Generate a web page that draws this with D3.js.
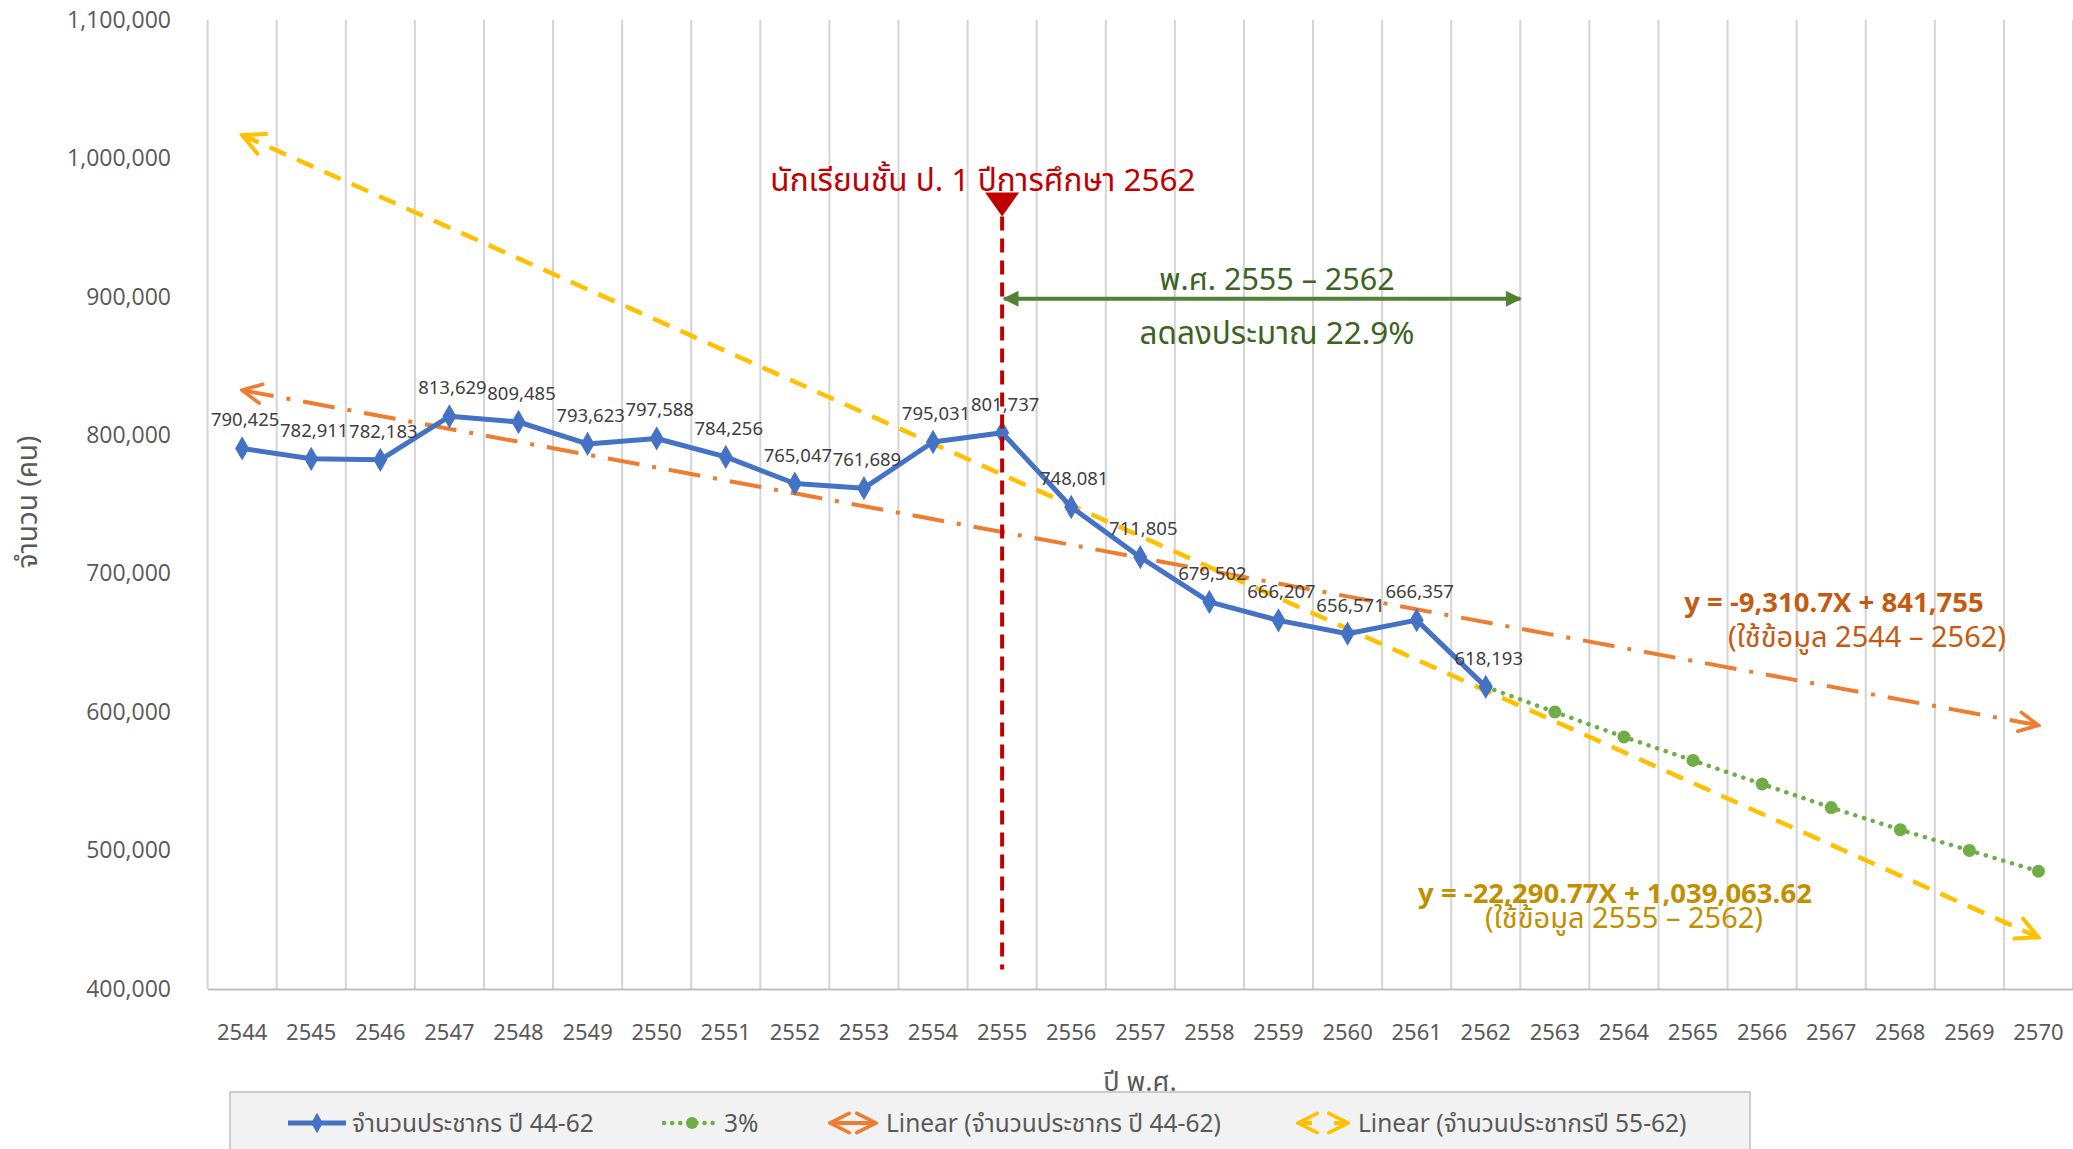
<!DOCTYPE html>
<html>
<head>
<meta charset="utf-8">
<script src="https://cdn.jsdelivr.net/npm/d3@7"></script>
<style>
  body { margin: 0; background: #fff; }
  svg { display: block; }
  text { font-family: "Noto Sans Thai", "Loma", "Garuda", "Tlwg Typo", "Noto Sans", sans-serif; }
</style>
</head>
<body>
<svg id="chart" width="2073" height="1149"></svg>
<script>
// categories (Thai Buddhist years)
const years = [2544,2545,2546,2547,2548,2549,2550,2551,2552,2553,2554,2555,2556,2557,2558,2559,2560,2561,2562,2563,2564,2565,2566,2567,2568,2569,2570]
// population 2544-2562
const popYears = [2544,2545,2546,2547,2548,2549,2550,2551,2552,2553,2554,2555,2556,2557,2558,2559,2560,2561,2562]
const popValues = [790425,782911,782183,813629,809485,793623,797588,784256,765047,761689,795031,801737,748081,711805,679502,666207,656571,666357,618193]
// 3% projection 2562-2570
const projYears = [2562,2563,2564,2565,2566,2567,2568,2569,2570]
const projValues = [618193,600000,582000,565000,548000,531000,515000,500000,485000]
// trend lines (end points)
const trendAllYears = [2544,2570]
const trendAllValues = [832444,590366]
const trendRecentYears = [2544,2570]
const trendRecentValues = [1016773,437213]
// y ticks
const yTicks = [400000,500000,600000,700000,800000,900000,1000000,1100000]

const svg = d3.select("#chart")
svg.append("rect").attr("width", 2073).attr("height", 1149).attr("fill", "#fff")

const x = d3.scaleBand().domain(years).range([207.6, 2073]).padding(0)
const xc = d => x(d) + x.bandwidth() / 2
const y = d3.scaleLinear().domain([400000, 1100000]).range([988.9, 19.8])

// defs: arrowheads
const defs = svg.append("defs")
function chevron(id, color) {
  defs.append("marker")
    .attr("id", id)
    .attr("viewBox", "0 0 10 10")
    .attr("refX", 9).attr("refY", 5)
    .attr("markerWidth", 6).attr("markerHeight", 6)
    .attr("markerUnits", "strokeWidth")
    .attr("orient", "auto-start-reverse")
    .append("path")
    .attr("d", "M1,1 L9,5 L1,9")
    .attr("fill", "none")
    .attr("stroke", color)
    .attr("stroke-width", 1.5)
    .attr("stroke-linecap", "round")
}
chevron("arrOrange", "#ed7d31")
chevron("arrYellow", "#ffc000")
defs.append("marker")
  .attr("id", "arrGreen")
  .attr("viewBox", "0 0 10 10")
  .attr("refX", 9).attr("refY", 5)
  .attr("markerWidth", 4.5).attr("markerHeight", 4)
  .attr("markerUnits", "strokeWidth")
  .attr("orient", "auto-start-reverse")
  .append("path")
  .attr("d", "M0,0 L10,5 L0,10 Z")
  .attr("fill", "#548235")

// vertical gridlines at band edges
const edges = years.map(d => x(d)).concat([x(years[years.length - 1]) + x.bandwidth()])
svg.append("g")
  .selectAll("line")
  .data(edges)
  .enter()
  .append("line")
  .attr("x1", d => d).attr("x2", d => d)
  .attr("y1", y(1100000)).attr("y2", y(400000))
  .attr("stroke", "#d4d4d4")
  .attr("stroke-width", 2)

// x axis
const xAxis = svg.append("g")
  .attr("transform", `translate(0, ${y(400000)})`)
  .call(d3.axisBottom(x).tickSize(0).tickPadding(35))
xAxis.select(".domain").attr("stroke", "#bfbfbf").attr("stroke-width", 2)
xAxis.selectAll("text")
  .attr("font-size", 22)
  .attr("fill", "#595959")
  .style("font-family", "'Liberation Sans Narrow', 'Noto Sans', sans-serif")

// y axis
const yAxis = svg.append("g")
  .attr("transform", "translate(171, 0)")
  .call(d3.axisLeft(y).tickValues(yTicks).tickSize(0).tickPadding(0).tickFormat(d3.format(",")))
yAxis.select(".domain").remove()
yAxis.selectAll("text")
  .attr("font-size", 23)
  .attr("fill", "#595959")
  .style("font-family", "'Open Sans', 'Noto Sans', sans-serif")

// axis titles
svg.append("text")
  .attr("transform", "translate(37, 502) rotate(-90)")
  .attr("text-anchor", "middle")
  .attr("font-size", 28)
  .attr("fill", "#595959")
  .text("จำนวน (คน)")

svg.append("text")
  .attr("x", 1140).attr("y", 1091)
  .attr("text-anchor", "middle")
  .attr("font-size", 27)
  .attr("fill", "#595959")
  .text("ปี พ.ศ.")

// trend lines
const line = d3.line().x(d => xc(d[0])).y(d => y(d[1]))

svg.append("path")
  .datum(trendAllYears.map((d, i) => [d, trendAllValues[i]]))
  .attr("d", line)
  .attr("fill", "none")
  .attr("stroke", "#ed7d31")
  .attr("stroke-width", 4)
  .attr("stroke-dasharray", "32 13 4 13")
  .attr("marker-start", "url(#arrOrange)")
  .attr("marker-end", "url(#arrOrange)")

svg.append("path")
  .datum(trendRecentYears.map((d, i) => [d, trendRecentValues[i]]))
  .attr("d", line)
  .attr("fill", "none")
  .attr("stroke", "#ffc000")
  .attr("stroke-width", 4.5)
  .attr("stroke-dasharray", "18 12")
  .attr("marker-start", "url(#arrYellow)")
  .attr("marker-end", "url(#arrYellow)")

// 3% projection
svg.append("path")
  .datum(projYears.map((d, i) => [d, projValues[i]]))
  .attr("d", line)
  .attr("fill", "none")
  .attr("stroke", "#70ad47")
  .attr("stroke-width", 4.5)
  .attr("stroke-linecap", "round")
  .attr("stroke-dasharray", "0.1 9")

svg.append("g")
  .selectAll("circle")
  .data(projYears.map((d, i) => [d, projValues[i]]))
  .enter()
  .append("circle")
  .attr("cx", d => xc(d[0]))
  .attr("cy", d => y(d[1]))
  .attr("r", 6.5)
  .attr("fill", "#70ad47")

// population line
const pop = popYears.map((d, i) => [d, popValues[i]])
svg.append("path")
  .datum(pop)
  .attr("d", line)
  .attr("fill", "none")
  .attr("stroke", "#4472c4")
  .attr("stroke-width", 5)
  .attr("stroke-linejoin", "round")

svg.append("g")
  .selectAll("path")
  .data(pop)
  .enter()
  .append("path")
  .attr("transform", d => `translate(${xc(d[0])}, ${y(d[1])})`)
  .attr("d", d3.symbol(d3.symbolDiamond, 170))
  .attr("fill", "#4472c4")

svg.append("g")
  .selectAll("text")
  .data(pop)
  .enter()
  .append("text")
  .attr("x", d => xc(d[0]) + 3)
  .attr("y", d => y(d[1]) - 22)
  .attr("text-anchor", "middle")
  .attr("font-size", 18.5)
  .attr("fill", "#404040")
  .style("font-family", "'Liberation Sans Narrow', 'Noto Sans', sans-serif")
  .text(d => d3.format(",")(d[1]))

// red marker line at 2555
svg.append("line")
  .attr("x1", xc(2555)).attr("x2", xc(2555))
  .attr("y1", y(958000)).attr("y2", y(414000))
  .attr("stroke", "#c00000")
  .attr("stroke-width", 4)
  .attr("stroke-dasharray", "14 8")

svg.append("path")
  .attr("transform", `translate(${xc(2555)}, ${y(958000)})`)
  .attr("d", "M-17,-24 L17,-24 L0,0 Z")
  .attr("fill", "#c00000")

svg.append("text")
  .attr("x", 983).attr("y", 191)
  .attr("text-anchor", "middle")
  .attr("font-size", 31.5)
  .attr("fill", "#c00000")
  .text("นักเรียนชั้น ป. 1 ปีการศึกษา 2562")

// green range arrow 2555 - 2562
const rangeY = y(898500)
svg.append("line")
  .attr("x1", xc(2555) + 2).attr("x2", x(2562) + x.bandwidth())
  .attr("y1", rangeY).attr("y2", rangeY)
  .attr("stroke", "#548235")
  .attr("stroke-width", 4)
  .attr("marker-start", "url(#arrGreen)")
  .attr("marker-end", "url(#arrGreen)")

svg.append("text")
  .attr("x", 1277).attr("y", 290)
  .attr("text-anchor", "middle")
  .attr("font-size", 30.5)
  .attr("fill", "#3b6321")
  .text("พ.ศ. 2555 – 2562")

svg.append("text")
  .attr("x", 1277).attr("y", 344)
  .attr("text-anchor", "middle")
  .attr("font-size", 31.5)
  .attr("fill", "#3b6321")
  .text("ลดลงประมาณ 22.9%")

// trend equations
svg.append("text")
  .attr("x", 1834).attr("y", 612)
  .attr("text-anchor", "middle")
  .attr("font-size", 27.5)
  .attr("font-weight", "bold")
  .attr("fill", "#c55a11")
  .text("y = -9,310.7X + 841,755")

svg.append("text")
  .attr("x", 1867).attr("y", 647)
  .attr("text-anchor", "middle")
  .attr("font-size", 29)
  .attr("fill", "#c55a11")
  .text("(ใช้ข้อมูล 2544 – 2562)")

svg.append("text")
  .attr("x", 1615).attr("y", 903)
  .attr("text-anchor", "middle")
  .attr("font-size", 27.5)
  .attr("font-weight", "bold")
  .attr("fill", "#bf9000")
  .text("y = -22,290.77X + 1,039,063.62")

svg.append("text")
  .attr("x", 1624).attr("y", 928)
  .attr("text-anchor", "middle")
  .attr("font-size", 29)
  .attr("fill", "#bf9000")
  .text("(ใช้ข้อมูล 2555 – 2562)")

// legend
const legend = svg.append("g")
legend.append("rect")
  .attr("x", 230).attr("y", 1092)
  .attr("width", 1520).attr("height", 70)
  .attr("fill", "#f2f2f2")
  .attr("stroke", "#bfbfbf")
  .attr("stroke-width", 1.5)

const ly = 1123
// item 1
legend.append("line").attr("x1", 288).attr("x2", 346).attr("y1", ly).attr("y2", ly)
  .attr("stroke", "#4472c4").attr("stroke-width", 5)
legend.append("path").attr("transform", `translate(317, ${ly})`)
  .attr("d", d3.symbol(d3.symbolDiamond, 120)).attr("fill", "#4472c4")
// item 2
legend.append("line").attr("x1", 664).attr("x2", 718).attr("y1", ly).attr("y2", ly)
  .attr("stroke", "#70ad47").attr("stroke-width", 4.5)
  .attr("stroke-linecap", "round").attr("stroke-dasharray", "0.1 8")
legend.append("circle").attr("cx", 692).attr("cy", ly).attr("r", 6).attr("fill", "#70ad47")
// item 3
legend.append("line").attr("x1", 830).attr("x2", 876).attr("y1", ly).attr("y2", ly)
  .attr("stroke", "#ed7d31").attr("stroke-width", 4)
  .attr("marker-start", "url(#arrOrange)").attr("marker-end", "url(#arrOrange)")
// item 4
legend.append("line").attr("x1", 1298).attr("x2", 1312).attr("y1", ly).attr("y2", ly)
  .attr("stroke", "#ffc000").attr("stroke-width", 4)
  .attr("marker-start", "url(#arrYellow)")
legend.append("line").attr("x1", 1334).attr("x2", 1348).attr("y1", ly).attr("y2", ly)
  .attr("stroke", "#ffc000").attr("stroke-width", 4)
  .attr("marker-end", "url(#arrYellow)")

const legendText = [
  [352, "จำนวนประชากร ปี 44-62"],
  [724, "3%"],
  [886, "Linear (จำนวนประชากร ปี 44-62)"],
  [1358, "Linear (จำนวนประชากรปี 55-62)"]
]
legend.selectAll("text.lg")
  .data(legendText)
  .enter()
  .append("text")
  .attr("class", "lg")
  .attr("x", d => d[0]).attr("y", ly + 9)
  .attr("font-size", 24.5)
  .attr("fill", "#595959")
  .text(d => d[1])
</script>
</body>
</html>
